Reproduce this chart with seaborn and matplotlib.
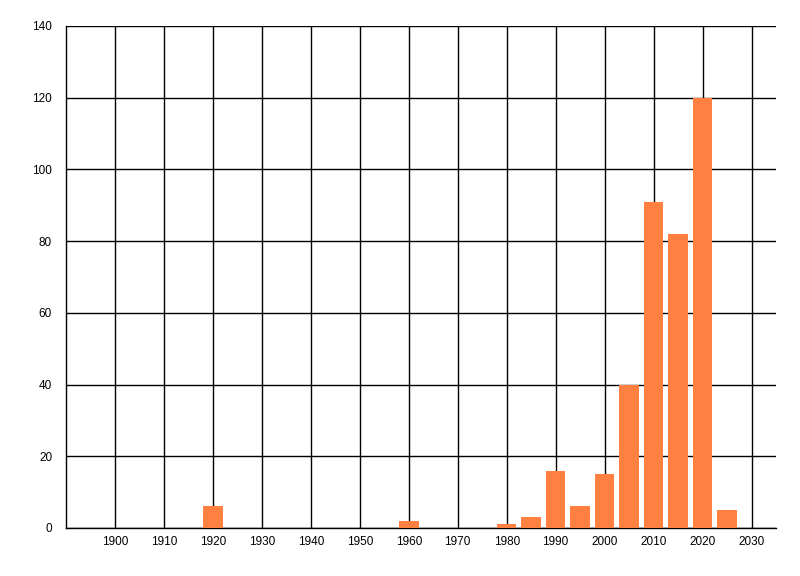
import matplotlib
matplotlib.use("Agg")
import matplotlib.pyplot as plt
import seaborn as sns
import pandas as pd

# bar data (year bucket -> count)
years = [1920, 1960, 1980, 1985, 1990, 1995, 2000, 2005, 2010, 2015, 2020, 2025]
counts = [6, 2, 1, 3, 16, 6, 15, 40, 91, 82, 120, 5]

x_ticks = list(range(1900, 2031, 10))
y_ticks = list(range(0, 141, 20))

df = pd.DataFrame({"year": years, "count": counts})

sns.set_style("white")
plt.rcParams["font.family"] = ["Liberation Sans", "DejaVu Sans"]

fig = plt.figure(figsize=(8, 5.76), dpi=100)
ax = fig.add_axes([66 / 800, 48 / 576, 710 / 800, 502 / 576])

sns.barplot(data=df, x="year", y="count", native_scale=True, width=0.8,
            color="#FF8040", saturation=1, linewidth=0, ax=ax, zorder=3)

ax.set_xlim(1890, 2035)
ax.set_ylim(0, 140)
ax.set_xticks(x_ticks)
ax.set_yticks(y_ticks)
ax.set_xticklabels([str(t) for t in x_ticks])
ax.grid(True, color="black", linewidth=1)
ax.set_axisbelow(True)
ax.set_xlabel("")
ax.set_ylabel("")

for side in ["top", "right"]:
    ax.spines[side].set_visible(False)
for side in ["left", "bottom"]:
    ax.spines[side].set_color("black")
    ax.spines[side].set_linewidth(1)

ax.tick_params(axis="y", length=8, width=1, color="black", labelcolor="black",
               labelsize=8.5, pad=2)
ax.tick_params(axis="x", length=0, labelcolor="black", labelsize=8.5, pad=6)

fig.savefig("out.png", dpi=100)
